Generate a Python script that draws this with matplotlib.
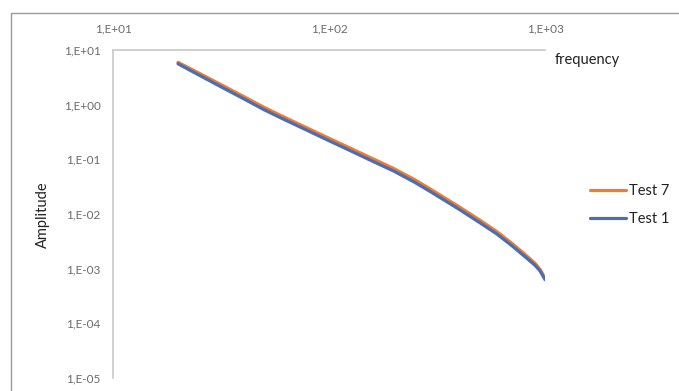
import matplotlib
matplotlib.use("Agg")
import matplotlib.pyplot as plt
from matplotlib.ticker import FixedLocator, FuncFormatter, NullLocator
from matplotlib.patches import Rectangle
import numpy as np

# Data
freq = [20, 25, 30, 40, 50, 60, 80, 100, 125, 150, 200, 250, 300, 400, 500, 600, 700, 800,
        900, 950, 1000]
test1 = [5.6, 3.48, 2.37, 1.30, 0.81, 0.57, 0.333, 0.219, 0.145, 0.103, 0.0606, 0.0378, 0.0246,
         0.0122, 0.0069, 0.00427, 0.00266, 0.00171, 0.00115, 0.0009, 0.00063]
test7 = [5.95, 3.78, 2.59, 1.43, 0.895, 0.63, 0.368, 0.243, 0.161, 0.115, 0.0675, 0.0422, 0.0274,
         0.0136, 0.0077, 0.00473, 0.00294, 0.00189, 0.00125, 0.00096, 0.00067]
series_names = ["Test 7", "Test 1"]
x_ticks = [10, 100, 1000]
y_ticks = [1e-5, 1e-4, 1e-3, 1e-2, 1e-1, 1e0, 1e1]

plt.rcParams['font.family'] = ['Lato', 'DejaVu Sans']

W, H = 679, 391
fig = plt.figure(figsize=(W / 100, H / 100), dpi=100)
fig.patch.set_facecolor('white')

# outer chart border
fig.patches.append(Rectangle((11 / W, -0.1), 1.0, 1.1 - 13 / H, transform=fig.transFigure,
                             fill=False, edgecolor='#9a9a9a', linewidth=1.0))

left, right, top, bottom = 113, 545, 50, 378
ax = fig.add_axes([left / W, 1 - bottom / H, (right - left) / W, (bottom - top) / H])

ax.plot(freq, test7, color='#ED7D31', lw=2.3, label=series_names[0], solid_capstyle='round')
ax.plot(freq, test1, color='#4A6DB5', lw=2.3, label=series_names[1], solid_capstyle='round')

ax.set_xscale('log')
ax.set_yscale('log')
ax.set_xlim(10, 1000)
ax.set_ylim(1e-5, 10)

fmt = FuncFormatter(lambda v, p: "1,E{:+03d}".format(int(round(np.log10(v)))))
ax.xaxis.set_major_locator(FixedLocator(x_ticks))
ax.yaxis.set_major_locator(FixedLocator(y_ticks))
ax.xaxis.set_minor_locator(NullLocator())
ax.yaxis.set_minor_locator(NullLocator())
ax.xaxis.set_major_formatter(fmt)
ax.yaxis.set_major_formatter(fmt)
ax.xaxis.tick_top()
ax.tick_params(axis='x', length=0, pad=11, labelsize=8.5, labelcolor='#6b6b6b')
ax.tick_params(axis='y', length=0, pad=9, labelsize=8.5, labelcolor='#6b6b6b')

for s in ['right', 'bottom']:
    ax.spines[s].set_visible(False)
for s in ['top', 'left']:
    ax.spines[s].set_color('#c8c8c8')
    ax.spines[s].set_linewidth(1.2)

fig.text(555 / W, 1 - 60 / H, "frequency", fontsize=10.5, va='center', ha='left', color='#222222')
fig.text(43 / W, 1 - 215 / H, "Amplitude", fontsize=10.5, va='center', ha='center',
         rotation=90, color='#222222')

leg = fig.legend(loc='center left', bbox_to_anchor=(590 / W, 1 - 205 / H), frameon=False,
                 fontsize=10.5, handlelength=2.5, handletextpad=0.15, labelspacing=1.0,
                 borderpad=0, borderaxespad=0)
for t in leg.get_texts():
    t.set_color('#222222')

fig.savefig("out.png", dpi=100, facecolor='white')
